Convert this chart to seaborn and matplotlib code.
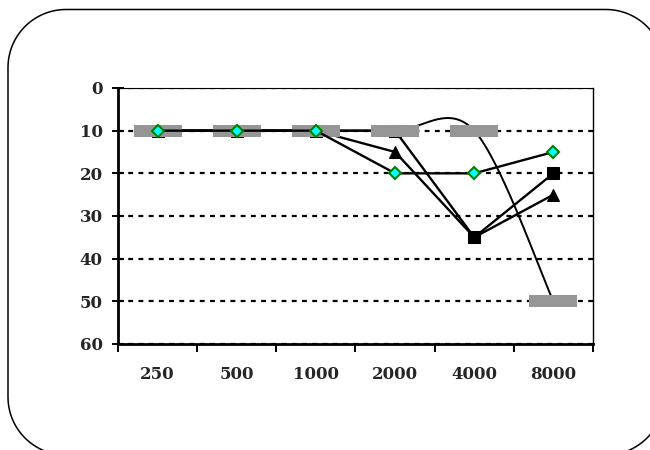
import numpy as np
import pandas as pd
import matplotlib
matplotlib.use("Agg")
import matplotlib.pyplot as plt
from matplotlib.path import Path
from matplotlib.patches import PathPatch
from matplotlib.transforms import IdentityTransform
from matplotlib.ticker import FixedLocator, NullFormatter, FixedFormatter
import seaborn as sns

# Frequencies (Hz) and hearing levels (dB) for each series
freq_labels = ["250", "500", "1000", "2000", "4000", "8000"]
level_bar = [10, 10, 10, 10, 10, 50]        # grey bars, smoothed line
level_triangle = [10, 10, 10, 15, 35, 25]
level_square = [10, 10, 10, 10, 35, 20]
level_diamond = [10, 10, 10, 20, 20, 15]
y_ticks = [0, 10, 20, 30, 40, 50, 60]

sns.set_style("white")
plt.rcParams["font.family"] = ["DejaVu Serif", "Liberation Serif"]
plt.rcParams["font.weight"] = "bold"

fig = plt.figure(figsize=(6.5, 4.5), dpi=100)
ax = fig.add_axes([118 / 650, 1 - 344 / 450, 475 / 650, 256 / 450])

xpos = np.arange(len(freq_labels))


def smooth_curve(x, y, n=40):
    """Bezier smoothing through every point (tangent = neighbour chord / 6)."""
    P = np.column_stack([x, y]).astype(float)
    m = len(P)
    pts = []
    for i in range(m - 1):
        p0, p3 = P[i], P[i + 1]
        prev = P[i - 1] if i > 0 else P[i]
        nxt = P[i + 2] if i + 2 < m else P[i + 1]
        c1 = p0 + (p3 - prev) / 6.0
        c2 = p3 - (nxt - p0) / 6.0
        t = np.linspace(0, 1, n)[:, None]
        seg = ((1 - t) ** 3) * p0 + 3 * ((1 - t) ** 2) * t * c1 \
            + 3 * (1 - t) * t ** 2 * c2 + t ** 3 * p3
        pts.append(seg if i == 0 else seg[1:])
    pts = np.vstack(pts)
    return pts[:, 0], pts[:, 1]


lw = 1.7
# Triangle series
sns.lineplot(x=xpos, y=level_triangle, ax=ax, color="black", linewidth=lw,
             marker="^", markersize=9, markeredgecolor="black",
             markerfacecolor="black", errorbar=None, sort=False, zorder=3)
# Square series
sns.lineplot(x=xpos, y=level_square, ax=ax, color="black", linewidth=lw,
             marker="s", markersize=9, markeredgecolor="black",
             markerfacecolor="black", errorbar=None, sort=False, zorder=4)

# Grey bar series: smoothed black line plus wide grey bar markers
sx, sy = smooth_curve(xpos, level_bar)
sns.lineplot(x=sx, y=sy, ax=ax, color="black", linewidth=1.4,
             errorbar=None, sort=False, estimator=None, zorder=5)
bar_marker = Path([(-1, -0.23), (1, -0.23), (1, 0.23), (-1, 0.23), (-1, -0.23)],
                  [Path.MOVETO, Path.LINETO, Path.LINETO, Path.LINETO, Path.CLOSEPOLY])
sns.lineplot(x=xpos, y=level_bar, ax=ax, linestyle="", marker=bar_marker,
             markersize=34.5, markerfacecolor="#969696", markeredgewidth=0,
             color="#969696", errorbar=None, sort=False, zorder=5.5)

# Diamond series
sns.lineplot(x=xpos, y=level_diamond, ax=ax, color="black", linewidth=lw,
             marker="D", markersize=6.6, markerfacecolor="#00FFFF",
             markeredgecolor="#008000", markeredgewidth=1.5,
             errorbar=None, sort=False, zorder=6)

# Axes: inverted dB scale, categories across
ax.set_xlim(-0.5, len(freq_labels) - 0.5)
ax.set_ylim(60, 0)
ax.set_xlabel("")
ax.set_ylabel("")

ax.xaxis.set_major_locator(FixedLocator(np.arange(-0.5, len(freq_labels), 1.0)))
ax.xaxis.set_major_formatter(NullFormatter())
ax.xaxis.set_minor_locator(FixedLocator(xpos))
ax.xaxis.set_minor_formatter(FixedFormatter(freq_labels))
ax.tick_params(axis="x", which="major", direction="out", length=6, width=1.4,
               color="black", bottom=True)
ax.tick_params(axis="x", which="minor", length=0, pad=16, labelsize=12,
               bottom=True)

ax.set_yticks(y_ticks)
ax.set_yticklabels([str(v) for v in y_ticks])
ax.tick_params(axis="y", direction="inout", length=8.6, width=1.4,
               color="black", pad=6.7, labelsize=12, left=True)
for lab in ax.get_xticklabels(minor=True) + ax.get_yticklabels():
    lab.set_fontweight("bold")

ax.yaxis.grid(True, color="black", linewidth=1.6, linestyle=(0, (2.2, 2.4)))
ax.xaxis.grid(False)
ax.set_axisbelow(True)

ax.spines["left"].set_linewidth(2.0)
ax.spines["bottom"].set_linewidth(2.0)
ax.spines["top"].set_linewidth(0.8)
ax.spines["right"].set_linewidth(1.0)
for s in ax.spines.values():
    s.set_color("black")
    s.set_visible(True)


# Rounded outer frame with circular corners (display pixel coordinates)
def rounded_rect(x0, y0, x1, y1, r, n=30):
    pts = []
    corners = [((x1 - r, y1 - r), 0, 90), ((x0 + r, y1 - r), 90, 180),
               ((x0 + r, y0 + r), 180, 270), ((x1 - r, y0 + r), 270, 360)]
    for (cx, cy), a0, a1 in corners:
        a = np.radians(np.linspace(a0, a1, n))
        pts.extend(zip(cx + r * np.cos(a), cy + r * np.sin(a)))
    pts.append(pts[0])
    return Path(pts)


frame = PathPatch(rounded_rect(8, -5, 664, 440.5, 58),
                  transform=IdentityTransform(), facecolor="none",
                  edgecolor="black", linewidth=1.1)
fig.add_artist(frame)

fig.savefig("out.png", dpi=100, facecolor="white")
